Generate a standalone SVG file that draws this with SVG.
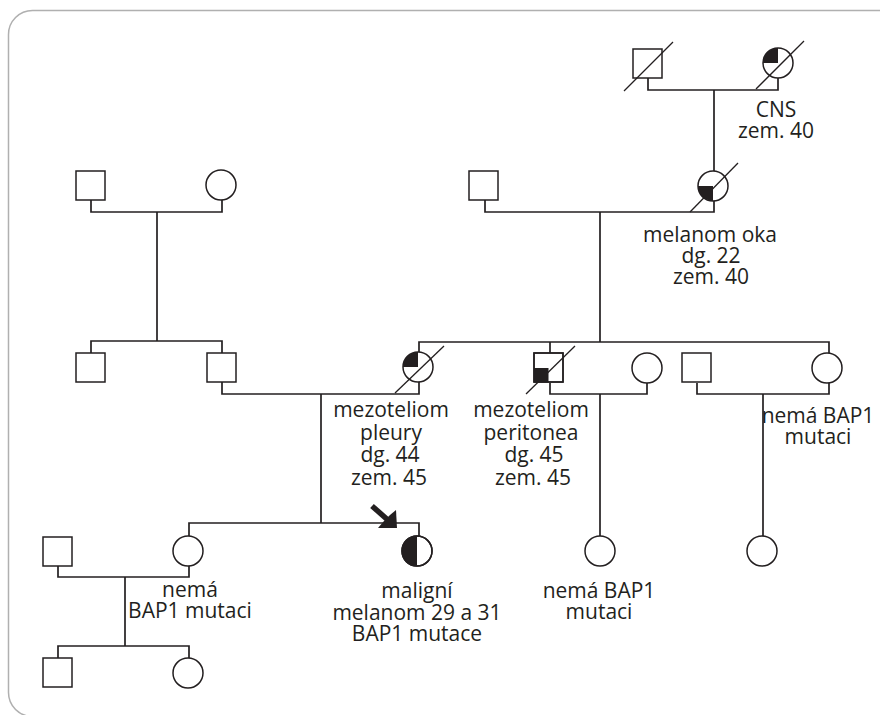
<svg xmlns="http://www.w3.org/2000/svg" width="880" height="715" viewBox="0 0 880 715">
<defs>
<style>
.ln{stroke:#231f20;stroke-width:1.7;fill:none}
.sh{stroke:#231f20;stroke-width:1.5;fill:#fff}
.sl{stroke:#231f20;stroke-width:1.3;fill:none}
.fl{fill:#231f20;stroke:none}
text{font-family:"Open Sans","Noto Sans","Liberation Sans",sans-serif;font-size:21px;fill:#231f20;text-anchor:middle}
</style>
</defs>
<rect x="0" y="0" width="880" height="715" fill="#fff"/>
<rect x="8.5" y="10.5" width="900" height="706" rx="24" ry="24" fill="none" stroke="#b0b0b0" stroke-width="1.5"/>

<g id="connectors">
<!-- Gen I right -->
<polyline class="ln" points="648,78 648,90 778,90 778,78"/>
<line class="ln" x1="714" y1="90" x2="714" y2="171"/>
<!-- Gen I left -->
<polyline class="ln" points="91,200 91,212 222,212 222,200"/>
<line class="ln" x1="157" y1="212" x2="157" y2="341"/>
<polyline class="ln" points="91,353 91,341 222,341 222,353"/>
<!-- Gen I middle -->
<polyline class="ln" points="485,200 485,212 714,212 714,201"/>
<line class="ln" x1="600" y1="212" x2="600" y2="342"/>
<polyline class="ln" points="419,352 419,342 829,342 829,353"/>
<line class="ln" x1="550" y1="342" x2="550" y2="353"/>
<!-- Gen II couples -->
<polyline class="ln" points="222,382 222,394 419,394 419,382"/>
<line class="ln" x1="321" y1="394" x2="321" y2="523"/>
<polyline class="ln" points="550,383 550,394 647,394 647,383"/>
<line class="ln" x1="600" y1="394" x2="600" y2="536"/>
<polyline class="ln" points="697,383 697,394 829,394 829,383"/>
<line class="ln" x1="763" y1="394" x2="763" y2="536"/>
<!-- Gen III -->
<polyline class="ln" points="189,536 189,523 419,523 419,536"/>
<polyline class="ln" points="58,566 58,577 189,577 189,566"/>
<line class="ln" x1="125" y1="577" x2="125" y2="646"/>
<polyline class="ln" points="58,658 58,646 189,646 189,658"/>
</g>

<g id="I-1"><rect class="sh" x="633" y="49" width="29" height="29"/><line class="sl" x1="624" y1="91" x2="673" y2="42"/></g>
<g id="I-2"><circle class="sh" cx="778" cy="63" r="15"/><path class="fl" d="M778,63 L763,63 A15,15 0 0 1 778,48 Z"/><line class="sl" x1="756" y1="89" x2="804" y2="41"/>
<text x="776" y="117">CNS</text><text x="776" y="138">zem. 40</text></g>

<g id="I-3"><rect class="sh" x="76" y="171" width="29" height="29"/></g>
<g id="I-4"><circle class="sh" cx="221" cy="185" r="15"/></g>
<g id="I-5"><rect class="sh" x="469" y="171" width="29" height="29"/></g>
<g id="I-6"><circle class="sh" cx="713" cy="186" r="15"/><path class="fl" d="M713,186 L698,186 A15,15 0 0 0 713,201 Z"/><line class="sl" x1="690" y1="212" x2="738" y2="163"/>
<text x="710" y="242">melanom oka</text><text x="711" y="263">dg. 22</text><text x="711" y="284">zem. 40</text></g>

<g id="II-1"><rect class="sh" x="76" y="353" width="29" height="29"/></g>
<g id="II-2"><rect class="sh" x="207" y="353" width="29" height="29"/></g>
<g id="II-3"><circle class="sh" cx="418" cy="367" r="15"/><path class="fl" d="M418,367 L403,367 A15,15 0 0 1 418,352 Z"/><line class="sl" x1="395" y1="393" x2="444" y2="346"/>
<text x="391" y="417">mezoteliom</text><text x="391" y="440">pleury</text><text x="390" y="462">dg. 44</text><text x="389" y="485">zem. 45</text></g>
<g id="II-4"><rect class="sh" x="534" y="353" width="29" height="29"/><rect class="fl" x="534" y="368" width="14.5" height="14.5"/><rect x="534" y="353" width="29" height="29" fill="none" stroke="#231f20" stroke-width="1.5"/><line class="sl" x1="526" y1="394" x2="575" y2="346"/>
<text x="531" y="417">mezoteliom</text><text x="531" y="440">peritonea</text><text x="534" y="462">dg. 45</text><text x="533" y="485">zem. 45</text></g>
<g id="II-5"><circle class="sh" cx="647" cy="368" r="15"/></g>
<g id="II-6"><rect class="sh" x="682" y="353" width="29" height="29"/></g>
<g id="II-7"><circle class="sh" cx="827" cy="368" r="15"/>
<text x="818" y="423">nemá BAP1</text><text x="818" y="444">mutaci</text></g>

<g id="III-1"><rect class="sh" x="43" y="537" width="29" height="29"/></g>
<g id="III-2"><circle class="sh" cx="188" cy="551" r="15"/>
<text x="190" y="597">nemá</text><text x="190" y="618">BAP1 mutaci</text></g>
<g id="III-3"><circle class="sh" cx="417" cy="551" r="15"/><path class="fl" d="M417,536 A15,15 0 0 0 417,566 Z"/><circle cx="417" cy="551" r="15" fill="none" stroke="#231f20" stroke-width="1.5"/>
<text x="417" y="598">maligní</text><text x="417" y="620">melanom 29 a 31</text><text x="417" y="641">BAP1 mutace</text></g>
<g id="arrow"><line x1="372" y1="506" x2="389" y2="521" stroke="#231f20" stroke-width="5.5"/><polygon class="fl" points="397,528 378,528 384,521 387,518 390,515 396,510"/></g>
<g id="III-4"><circle class="sh" cx="600" cy="551" r="15"/>
<text x="599" y="598">nemá BAP1</text><text x="599" y="619">mutaci</text></g>
<g id="III-5"><circle class="sh" cx="762" cy="551" r="15"/></g>

<g id="IV-1"><rect class="sh" x="43" y="658" width="29" height="29"/></g>
<g id="IV-2"><circle class="sh" cx="188" cy="673" r="15"/></g>
</svg>
